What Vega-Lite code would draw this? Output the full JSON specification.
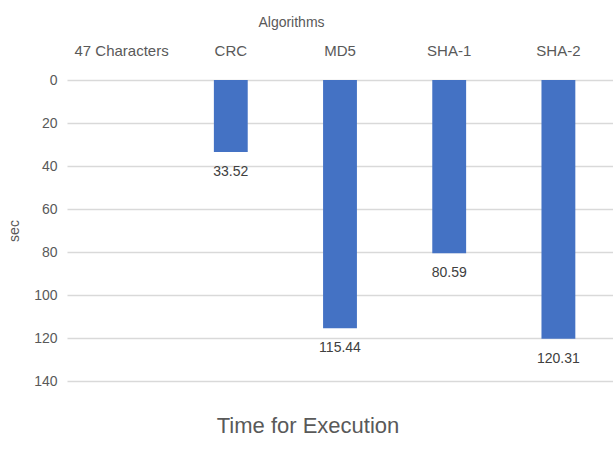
{
  "$schema": "https://vega.github.io/schema/vega-lite/v6.json",
  "autosize": {"type": "none"},
  "width": 546,
  "height": 301,
  "padding": {"left": 67, "top": 80, "right": 0, "bottom": 80},
  "background": "white",
  "title": {"text": "Time for Execution", "orient": "bottom", "fontSize": 22, "font": "Liberation Sans", "fontWeight": "normal", "color": "#595959", "offset": 28, "dx": -32},
  "data": {"values": [
    {"algorithm": "CRC", "sec": 33.52},
    {"algorithm": "MD5", "sec": 115.44},
    {"algorithm": "SHA-1", "sec": 80.59},
    {"algorithm": "SHA-2", "sec": 120.31}
  ]},
  "config": {
    "view": {"stroke": null},
    "axis": {"labelFont": "Liberation Sans", "titleFont": "Liberation Sans", "labelColor": "#595959", "titleColor": "#595959", "labelFontSize": 14, "titleFontSize": 14, "titleFontWeight": "normal", "domain": false, "ticks": false}
  },
  "encoding": {
    "x": {"field": "algorithm", "type": "nominal", "sort": null,
      "scale": {"domain": ["47 Characters", "CRC", "MD5", "SHA-1", "SHA-2"], "paddingInner": 0.69, "paddingOuter": 0.345},
      "axis": {"orient": "top", "title": "Algorithms", "titleX": 224, "labelAngle": 0, "labelFontSize": 15, "labelPadding": 22, "titlePadding": 14, "grid": false}},
    "y": {"field": "sec", "type": "quantitative",
      "scale": {"domain": [0, 140], "reverse": true, "nice": false},
      "axis": {"values": [0, 20, 40, 60, 80, 100, 120, 140], "title": "sec", "grid": true, "gridColor": "#d9d9d9", "gridWidth": 1.3, "labelPadding": 10, "titlePadding": 12}}
  },
  "layer": [
    {"mark": {"type": "bar", "color": "#4472C4"}},
    {"mark": {"type": "text", "baseline": "middle", "dy": 20, "fontSize": 14, "font": "Liberation Sans", "color": "#404040"},
     "encoding": {"text": {"field": "sec", "type": "quantitative", "format": ".2f"}}}
  ]
}
